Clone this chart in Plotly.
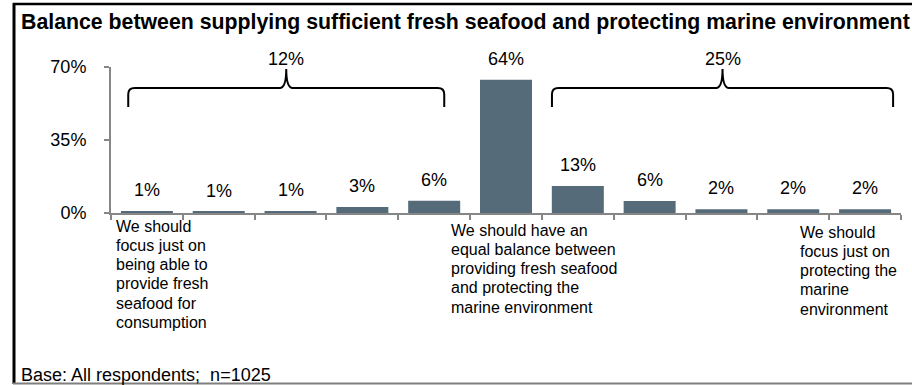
import plotly.graph_objects as go

# ---------------- data ----------------
categories = list(range(11))
values = [1.0, 0.6, 0.9, 2.9, 5.9, 63.9, 12.9, 5.8, 1.8, 1.8, 1.8]
value_labels = [1, 1, 1, 3, 6, 64, 13, 6, 2, 2, 2]
group_members = [[0, 1, 2, 3, 4], [6, 7, 8, 9, 10]]
y_ticks = [0, 35, 70]
y_tick_labels = ["0%", "35%", "70%"]
category_notes = {
    0: "We should<br>focus just on<br>being able to<br>provide fresh<br>seafood for<br>consumption",
    5: "We should have an<br>equal balance between<br>providing fresh seafood<br>and protecting the<br>marine environment",
    10: "We should<br>focus just on<br>protecting the<br>marine<br>environment",
}
title_text = "Balance between supplying sufficient fresh seafood and protecting marine environment"
base_text = "Base: All respondents;  n=1025"

# ---------------- layout constants (pixels) ----------------
W, H = 912, 385
L, R, T, B = 111, 901, 67, 213
FONT = "Liberation Sans, Arial, sans-serif"
BAR_COLOR = "#556b79"
AXIS_COLOR = "#868686"


def px(x):
    return (x - L) / (R - L)


def py(y):
    return (B - y) / (B - T)


fig = go.Figure()
fig.add_trace(go.Bar(x=categories, y=values, marker=dict(color=BAR_COLOR, line=dict(width=0)),
                     width=0.724, hoverinfo="skip"))

annotations = []
# value labels above bars
for c, v, lab in zip(categories, values, value_labels):
    annotations.append(dict(x=c, y=v, xref="x", yref="y", text=f"{lab}%", showarrow=False,
                            yanchor="middle", xanchor="center", yshift=21,
                            font=dict(family=FONT, size=18, color="#000000")))

# category notes (one annotation per line)
note_style = {0: (-0.458, 226), 5: (-0.794, 230), 10: (-0.934, 232)}
for idx, txt in category_notes.items():
    dx, y0 = note_style[idx]
    for i, line in enumerate(txt.split("<br>")):
        annotations.append(dict(x=idx + dx, y=py(y0 + i * 19.3), xref="x", yref="paper",
                                text=line, showarrow=False, xanchor="left", yanchor="middle",
                                font=dict(family=FONT, size=16, color="#000000")))

# group brackets
bracket_span = [(-0.26, 4.14), (5.64, 10.39)]
y_end, y_h, y_peak = 50.8, 59.9, 69.0
rx, ry = 0.09, 3.0
shapes = []
for (x0, x1), members in zip(bracket_span, group_members):
    xm = (x0 + x1) / 2
    path = (f"M {x0},{y_end} L {x0},{y_h - ry} Q {x0},{y_h} {x0 + rx},{y_h} "
            f"L {xm - rx},{y_h} Q {xm},{y_h} {xm},{y_peak} "
            f"Q {xm},{y_h} {xm + rx},{y_h} L {x1 - rx},{y_h} "
            f"Q {x1},{y_h} {x1},{y_h - ry} L {x1},{y_end}")
    shapes.append(dict(type="path", path=path, xref="x", yref="y",
                       line=dict(color="#000000", width=2)))
    total = sum(value_labels[m] for m in members)
    annotations.append(dict(x=xm, y=y_peak, xref="x", yref="y", text=f"{total}%",
                            showarrow=False, yanchor="middle", yshift=10,
                            font=dict(family=FONT, size=18, color="#000000")))

# base note
annotations.append(dict(x=px(19), y=py(375), xref="paper", yref="paper", text=base_text,
                        showarrow=False, xanchor="left", yanchor="middle",
                        font=dict(family=FONT, size=18, color="#000000")))

# frame lines
shapes += [
    dict(type="line", xref="paper", yref="paper", x0=px(14), x1=px(14), y0=py(3), y1=py(384),
         line=dict(color="#000000", width=3)),
    dict(type="line", xref="paper", yref="paper", x0=px(13), x1=px(912), y0=py(4), y1=py(4),
         line=dict(color="#000000", width=2.5)),
    dict(type="line", xref="paper", yref="paper", x0=px(13), x1=px(912), y0=py(383.5), y1=py(383.5),
         line=dict(color="#7f7f7f", width=2)),
]

fig.update_layout(
    width=W, height=H,
    margin=dict(l=L, r=W - R, t=T, b=H - B, pad=0),
    paper_bgcolor="white", plot_bgcolor="white",
    showlegend=False,
    title=dict(text=f"<b>{title_text}</b>", x=21 / W, xanchor="left", xref="container",
               y=1 - 22 / H, yanchor="middle", yref="container",
               font=dict(family=FONT, size=21.3, color="#000000")),
    xaxis=dict(range=[-0.5, 10.5], tickmode="array",
               tickvals=[c - 0.5 for c in categories] + [categories[-1] + 0.5],
               showticklabels=False, ticks="outside", ticklen=5, tickcolor=AXIS_COLOR, tickwidth=1.5,
               showline=True, linecolor=AXIS_COLOR, linewidth=2, showgrid=False, zeroline=False,
               fixedrange=True),
    yaxis=dict(range=[0, 70], tickmode="array", tickvals=y_ticks, ticktext=y_tick_labels,
               ticks="outside", ticklen=5, tickcolor=AXIS_COLOR, tickwidth=1.5,
               showline=True, linecolor=AXIS_COLOR, linewidth=2, showgrid=False, zeroline=False,
               tickfont=dict(family=FONT, size=18, color="#000000"), ticklabelstandoff=14,
               fixedrange=True),
    annotations=annotations,
    shapes=shapes,
)

fig.write_html("out.html", config={"displayModeBar": False})
